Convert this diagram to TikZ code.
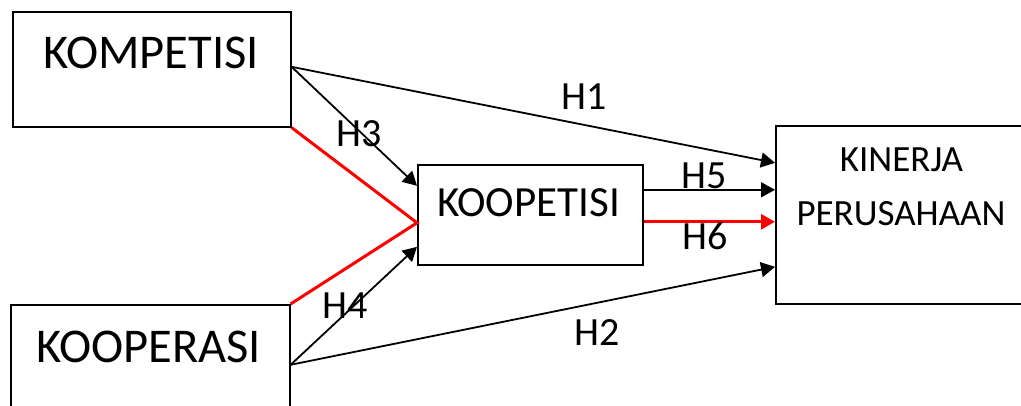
\documentclass[tikz,border=0pt]{standalone}
\usepackage{fontspec}
\setmainfont{Carlito}
\usetikzlibrary{arrows.meta,calc}
\begin{document}
\begin{tikzpicture}[x=1pt,y=-1pt,
  box/.style={draw=black,line width=1.6pt,rectangle,inner sep=0pt,anchor=north west},
  lbl/.style={anchor=base,inner sep=0pt,font=\fontsize{40}{42}\selectfont},
  conn/.style={line width=1.8pt,-{Triangle[length=14pt,width=15pt]}},
  redl/.style={draw=red,line width=3pt},
  redarrow/.style={red,line width=3pt,-{Triangle[length=14pt,width=15pt]}}]
\useasboundingbox (0,0) rectangle (1021,405);
\clip (0,0) rectangle (1021,405);
% boxes
\node[box,minimum width=278pt,minimum height=115pt] (komp) at (12,11) {};
\node[box,minimum width=279pt,minimum height=115pt] (koop) at (10,304) {};
\node[box,minimum width=225pt,minimum height=100pt] (koopet) at (417,164) {};
\node[box,minimum width=252pt,minimum height=178pt] (kin) at (775,125) {};
% texts
\node[anchor=base,inner sep=0pt,font=\fontsize{48.5}{50}\selectfont] (kompT) at (151,68) {KOMPETISI};
\node[anchor=base,inner sep=0pt,font=\fontsize{48.5}{50}\selectfont] (koopT) at (148.5,362) {KOOPERASI};
\node[anchor=base,inner sep=0pt,font=\fontsize{43}{45}\selectfont] (koopetT) at (528.5,216.5) {KOOPETISI};
\node[anchor=base,inner sep=0pt,font=\fontsize{37}{39}\selectfont] (kinT1) at (901.5,171.5) {KINERJA};
\node[anchor=base,inner sep=0pt,font=\fontsize{37}{39}\selectfont] (kinT2) at (901,225) {PERUSAHAAN};
% connection points
\coordinate (kompR) at ([yshift=2.5pt]komp.east);
\coordinate (koopR) at ([yshift=-2.5pt]koop.east);
\coordinate (inH3) at ([yshift=29pt]koopet.west);
\coordinate (inRed) at ([yshift=-8pt]koopet.west);
\coordinate (inH4) at ([yshift=-32pt]koopet.west);
\coordinate (outH5) at ([yshift=25pt]koopet.east);
\coordinate (outH6) at ([yshift=-7pt]koopet.east);
\coordinate (inH1) at ([yshift=52pt]kin.west);
\coordinate (inH5) at ([yshift=25pt]kin.west);
\coordinate (inH6) at ([yshift=-7pt]kin.west);
\coordinate (inH2) at ([yshift=-52pt]kin.west);
% red lines
\draw[redl] (komp.south east) -- (inRed) -- (koop.north east);
% arrows
\draw[conn] (kompR) -- (inH1);
\draw[conn] (kompR) -- (inH3);
\draw[conn] (koopR) -- (inH4);
\draw[conn] (koopR) -- (inH2);
\draw[conn] (outH5) -- (inH5);
\draw[redarrow] (outH6) -- (inH6);
% labels
\node[lbl] (h1) at (584.5,109) {H1};
\node[lbl] (h2) at (597,345) {H2};
\node[lbl] (h3) at (359,146) {H3};
\node[lbl] (h4) at (345,318) {H4};
\node[lbl] (h5) at (704.5,188) {H5};
\node[lbl] (h6) at (705,249) {H6};
\end{tikzpicture}
\end{document}
